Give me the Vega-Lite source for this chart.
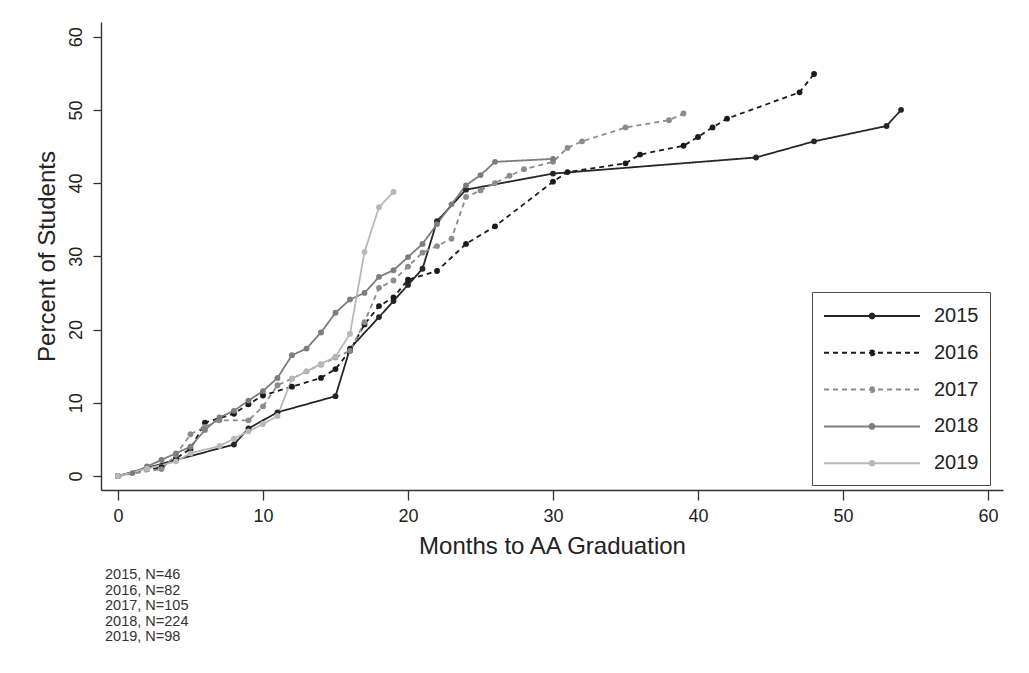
{
  "$schema": "https://vega.github.io/schema/vega-lite/v6.json",
  "width": 902,
  "height": 468,
  "autosize": "none",
  "padding": {"left": 101, "top": 22, "right": 26, "bottom": 183},
  "background": "white",
  "config": {
    "view": {"stroke": null},
    "font": "Liberation Sans",
    "axis": {"grid": false, "domainColor": "#333333", "domainWidth": 1.4, "tickColor": "#333333", "tickWidth": 1.3, "labelColor": "#222222", "titleColor": "#222222", "labelFontSize": 18, "titleFontSize": 24, "titleFontWeight": "normal", "labelFont": "Liberation Sans", "titleFont": "Liberation Sans"}
  },
  "title": {
    "text": ["2015, N=46", "2016, N=82", "2017, N=105", "2018, N=224", "2019, N=98"],
    "orient": "bottom",
    "anchor": "start",
    "frame": "group",
    "fontSize": 14.5,
    "fontWeight": "normal",
    "color": "#333333",
    "lineHeight": 15.5,
    "offset": 10,
    "dx": 4
  },
  "data": {"values": [
    {"year": "2015", "m": 0, "p": 0}, {"year": "2015", "m": 4, "p": 2.2}, {"year": "2015", "m": 8, "p": 4.3}, {"year": "2015", "m": 9, "p": 6.5}, {"year": "2015", "m": 11, "p": 8.7}, {"year": "2015", "m": 15, "p": 10.9}, {"year": "2015", "m": 16, "p": 17.4}, {"year": "2015", "m": 18, "p": 21.7}, {"year": "2015", "m": 19, "p": 23.9}, {"year": "2015", "m": 20, "p": 26.1}, {"year": "2015", "m": 21, "p": 28.3}, {"year": "2015", "m": 22, "p": 34.8}, {"year": "2015", "m": 24, "p": 39.1}, {"year": "2015", "m": 30, "p": 41.3}, {"year": "2015", "m": 44, "p": 43.5}, {"year": "2015", "m": 48, "p": 45.7}, {"year": "2015", "m": 53, "p": 47.8}, {"year": "2015", "m": 54, "p": 50.0},
    {"year": "2016", "m": 0, "p": 0}, {"year": "2016", "m": 3, "p": 1.2}, {"year": "2016", "m": 4, "p": 2.4}, {"year": "2016", "m": 5, "p": 3.7}, {"year": "2016", "m": 6, "p": 7.3}, {"year": "2016", "m": 8, "p": 8.5}, {"year": "2016", "m": 9, "p": 9.8}, {"year": "2016", "m": 10, "p": 11.0}, {"year": "2016", "m": 12, "p": 12.2}, {"year": "2016", "m": 14, "p": 13.4}, {"year": "2016", "m": 15, "p": 14.6}, {"year": "2016", "m": 16, "p": 17.1}, {"year": "2016", "m": 17, "p": 20.7}, {"year": "2016", "m": 18, "p": 23.2}, {"year": "2016", "m": 19, "p": 24.4}, {"year": "2016", "m": 20, "p": 26.8}, {"year": "2016", "m": 22, "p": 28.0}, {"year": "2016", "m": 24, "p": 31.7}, {"year": "2016", "m": 26, "p": 34.1}, {"year": "2016", "m": 30, "p": 40.2}, {"year": "2016", "m": 31, "p": 41.5}, {"year": "2016", "m": 35, "p": 42.7}, {"year": "2016", "m": 36, "p": 43.9}, {"year": "2016", "m": 39, "p": 45.1}, {"year": "2016", "m": 40, "p": 46.3}, {"year": "2016", "m": 41, "p": 47.6}, {"year": "2016", "m": 42, "p": 48.8}, {"year": "2016", "m": 47, "p": 52.4}, {"year": "2016", "m": 48, "p": 54.9},
    {"year": "2017", "m": 0, "p": 0}, {"year": "2017", "m": 3, "p": 0.95}, {"year": "2017", "m": 4, "p": 2.9}, {"year": "2017", "m": 5, "p": 5.7}, {"year": "2017", "m": 6, "p": 6.7}, {"year": "2017", "m": 7, "p": 7.6}, {"year": "2017", "m": 9, "p": 7.6}, {"year": "2017", "m": 10, "p": 9.5}, {"year": "2017", "m": 11, "p": 12.4}, {"year": "2017", "m": 12, "p": 13.3}, {"year": "2017", "m": 13, "p": 14.3}, {"year": "2017", "m": 14, "p": 15.2}, {"year": "2017", "m": 15, "p": 16.2}, {"year": "2017", "m": 16, "p": 17.1}, {"year": "2017", "m": 17, "p": 21.0}, {"year": "2017", "m": 18, "p": 25.7}, {"year": "2017", "m": 19, "p": 26.7}, {"year": "2017", "m": 20, "p": 28.6}, {"year": "2017", "m": 21, "p": 30.5}, {"year": "2017", "m": 22, "p": 31.4}, {"year": "2017", "m": 23, "p": 32.4}, {"year": "2017", "m": 24, "p": 38.1}, {"year": "2017", "m": 25, "p": 39.0}, {"year": "2017", "m": 26, "p": 40.0}, {"year": "2017", "m": 27, "p": 41.0}, {"year": "2017", "m": 28, "p": 41.9}, {"year": "2017", "m": 30, "p": 42.9}, {"year": "2017", "m": 31, "p": 44.8}, {"year": "2017", "m": 32, "p": 45.7}, {"year": "2017", "m": 35, "p": 47.6}, {"year": "2017", "m": 38, "p": 48.6}, {"year": "2017", "m": 39, "p": 49.5},
    {"year": "2018", "m": 0, "p": 0}, {"year": "2018", "m": 1, "p": 0.4}, {"year": "2018", "m": 2, "p": 1.3}, {"year": "2018", "m": 3, "p": 2.2}, {"year": "2018", "m": 4, "p": 3.1}, {"year": "2018", "m": 5, "p": 4.0}, {"year": "2018", "m": 6, "p": 6.3}, {"year": "2018", "m": 7, "p": 8.0}, {"year": "2018", "m": 8, "p": 8.9}, {"year": "2018", "m": 9, "p": 10.3}, {"year": "2018", "m": 10, "p": 11.6}, {"year": "2018", "m": 11, "p": 13.4}, {"year": "2018", "m": 12, "p": 16.5}, {"year": "2018", "m": 13, "p": 17.4}, {"year": "2018", "m": 14, "p": 19.6}, {"year": "2018", "m": 15, "p": 22.3}, {"year": "2018", "m": 16, "p": 24.1}, {"year": "2018", "m": 17, "p": 25.0}, {"year": "2018", "m": 18, "p": 27.2}, {"year": "2018", "m": 19, "p": 28.1}, {"year": "2018", "m": 20, "p": 29.9}, {"year": "2018", "m": 21, "p": 31.7}, {"year": "2018", "m": 22, "p": 34.4}, {"year": "2018", "m": 23, "p": 37.1}, {"year": "2018", "m": 24, "p": 39.7}, {"year": "2018", "m": 25, "p": 41.1}, {"year": "2018", "m": 26, "p": 42.9}, {"year": "2018", "m": 30, "p": 43.3},
    {"year": "2019", "m": 0, "p": 0}, {"year": "2019", "m": 2, "p": 1.0}, {"year": "2019", "m": 4, "p": 2.0}, {"year": "2019", "m": 5, "p": 3.1}, {"year": "2019", "m": 7, "p": 4.1}, {"year": "2019", "m": 8, "p": 5.1}, {"year": "2019", "m": 9, "p": 6.1}, {"year": "2019", "m": 10, "p": 7.1}, {"year": "2019", "m": 11, "p": 8.2}, {"year": "2019", "m": 12, "p": 13.3}, {"year": "2019", "m": 13, "p": 14.3}, {"year": "2019", "m": 14, "p": 15.3}, {"year": "2019", "m": 15, "p": 16.3}, {"year": "2019", "m": 16, "p": 19.4}, {"year": "2019", "m": 17, "p": 30.6}, {"year": "2019", "m": 18, "p": 36.7}, {"year": "2019", "m": 19, "p": 38.8}
  ]},
  "encoding": {
    "x": {"field": "m", "type": "quantitative", "scale": {"domain": [-1.17, 61.03], "nice": false, "zero": false}, "axis": {"values": [0, 10, 20, 30, 40, 50, 60], "title": "Months to AA Graduation", "tickSize": 10, "labelPadding": 7, "titlePadding": 9}},
    "y": {"field": "p", "type": "quantitative", "scale": {"domain": [-1.91, 62.0], "nice": false, "zero": false}, "axis": {"values": [0, 10, 20, 30, 40, 50, 60], "title": "Percent of Students", "tickSize": 8, "labelAngle": -90, "labelAlign": "center", "labelBaseline": "bottom", "labelPadding": 8, "titlePadding": 8}}
  },
  "layer": [
    {
      "mark": {"type": "line", "strokeWidth": 1.8},
      "encoding": {
        "color": {"field": "year", "type": "nominal", "scale": {"domain": ["2015", "2016", "2017", "2018", "2019"], "range": ["#262626", "#1a1a1a", "#8c8c8c", "#7d7d7d", "#b8b8b8"]},
          "legend": {"title": null, "orient": "none", "legendX": 711, "legendY": 270, "strokeColor": "#4a4a4a", "padding": 11, "symbolType": "M-4,0L4,0M0.2,0A0.2,0.2 0 1,1 -0.2,0A0.2,0.2 0 1,1 0.2,0Z", "symbolSize": 576, "symbolOffset": 36, "symbolStrokeWidth": 2, "labelFontSize": 20, "labelColor": "#222222", "labelOffset": 49, "rowPadding": 13.8, "labelFont": "Liberation Sans",
            "encode": {"symbols": {"update": {"fill": {"scale": "color", "field": "value"}, "fillOpacity": {"value": 1}}}}}},
        "strokeDash": {"field": "year", "type": "nominal", "scale": {"domain": ["2015", "2016", "2017", "2018", "2019"], "range": [[1, 0], [5, 4], [5, 4], [1, 0], [1, 0]]}, "legend": {"title": null}}
      }
    },
    {
      "mark": {"type": "circle", "size": 34, "opacity": 1},
      "encoding": {
        "color": {"field": "year", "type": "nominal", "legend": null}
      }
    }
  ]
}
